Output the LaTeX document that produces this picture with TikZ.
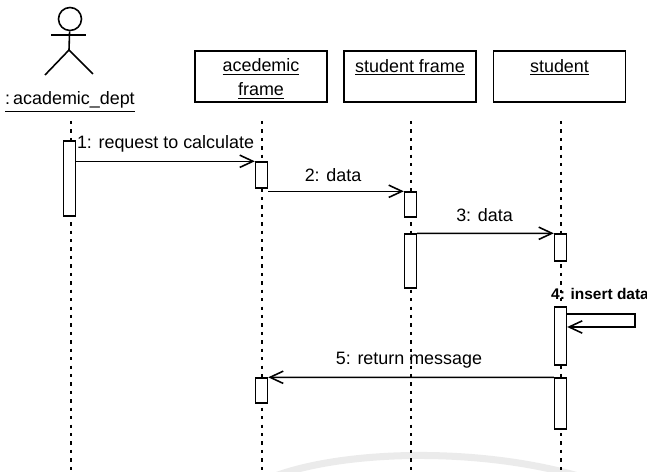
\documentclass[tikz,border=0pt]{standalone}
\usepackage{fontspec}
\setmainfont{Liberation Sans}
\usetikzlibrary{arrows.meta}
\begin{document}
\begin{tikzpicture}[x=0.02cm, y=-0.02cm]
        \tikzstyle{every node}=[inner sep=0pt, font=\fontsize{10.2}{13}\selectfont, text=black]
        \tikzstyle{object}=[rectangle, draw=black, line width=0.9pt, minimum width=2.64cm, minimum height=1.02cm, text depth=0pt]
        \tikzstyle{active}=[rectangle, draw=black, fill=white, line width=0.8pt, minimum width=0.24cm]
        \tikzstyle{lifeline}=[black, line width=1.25pt, dash pattern=on 1.9pt off 2.9pt]
        \tikzstyle{message}=[black, line width=0.9pt, -{Straight Barb[length=7.5pt, width=7pt]}]
        \tikzstyle{actor}=[black, line width=0.9pt]

        \useasboundingbox (0,0) rectangle (647,472);
        \draw[gray!16, line width=4pt] (270,478) .. controls (340,450) and (480,446) .. (585,478);

        % actor
        \node[circle, draw=black, line width=0.9pt, minimum size=0.46cm] (head) at (70,19) {};
        \coordinate (hip) at (69,50);
        \coordinate (armL) at (51,35);
        \coordinate (armR) at (86,35);
        \coordinate (legL) at (45,75);
        \coordinate (legR) at (93,74);
        \draw[actor] (head) -- (hip);
        \draw[actor] (armL) -- (armR);
        \draw[actor] (legL) -- (hip) -- (legR);
        \node (dept) at (70,102) {\underline{:\,academic\_dept}};

        % objects
        \node[object] (frameA) at (261,76.5) {};
        \node[object] (frameS) at (410,76.5) {};
        \node[object] (stud) at (559.5,76.5) {};
        \node (frameAtxt) at (261,79) {\begin{tabular}{@{}c@{}} \underline{acedemic} \\[0.5pt] \underline{frame} \end{tabular}};
        \node (frameStxt) at (410,67.5) {\underline{student frame}};
        \node (studtxt) at (559.5,67.5) {\underline{student}};

        % lifelines
        \coordinate (topD) at (71,121);
        \coordinate (topA) at (262,121);
        \coordinate (topS) at (411,121);
        \coordinate (topU) at (561,121);
        \coordinate (botD) at (71,470);
        \coordinate (botA) at (262,470);
        \coordinate (botS) at (411,470);
        \coordinate (botU) at (561,470);
        \draw[lifeline] (topD) -- (botD);
        \draw[lifeline] (topA) -- (botA);
        \draw[lifeline] (topS) -- (botS);
        \draw[lifeline] (topU) -- (botU);

        % activations
        \node[active, minimum height=1.5cm] (act1) at (69.5,178.5) {};
        \node[active, minimum height=0.52cm] (act2) at (261.5,175) {};
        \node[active, minimum height=0.5cm] (act3) at (410.5,204.5) {};
        \node[active, minimum height=1.08cm] (act4) at (410.5,261) {};
        \node[active, minimum height=0.54cm] (act5) at (560.5,247.5) {};
        \node[active, minimum height=1.16cm] (act6) at (560.5,336) {};
        \node[active, minimum height=1.02cm] (act7) at (560.5,403.5) {};
        \node[active, minimum height=0.5cm] (act8) at (261.5,390.5) {};

        % messages
        \coordinate (selfA) at (635,314);
        \coordinate (selfB) at (635,327);
        \draw[message] (act1.east |- act2.north) -- (act2.north west);
        \draw[message] (act2.east |- act3.north) -- (act3.north west);
        \draw[message] (act4.north east) -- (act5.north west);
        \draw[message] (act6.east |- selfA) -- (selfA) -- (selfB) -- (act6.east |- selfB);
        \draw[message] (act7.north west) -- (act8.north east);

        % labels
        \node (msgA) at (165.5,144) {1: request to calculate};
        \node (msgB) at (333,175) {2: data};
        \node (msgC) at (484.5,215) {3: data};
        \node[font=\fontsize{8.8}{11}\selectfont\bfseries] (msgD) at (600,294) {4: insert data};
        \node (msgE) at (409,360) {5: return message};
\end{tikzpicture}
\end{document}
